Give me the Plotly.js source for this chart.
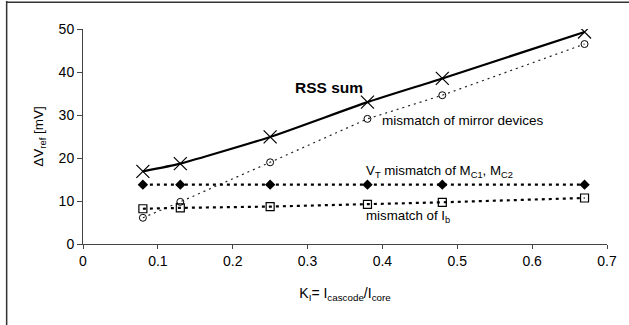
<!DOCTYPE html>
<html><head><meta charset="utf-8">
<script src="https://cdn.plot.ly/plotly-3.0.1.min.js"></script>
<style>html,body{margin:0;padding:0;background:#fff}#c{width:629px;height:325px}</style>
</head><body><div id="c"></div>
<script>
var kI = [0.08, 0.13, 0.25, 0.38, 0.48, 0.67];
var rssSum = [16.9, 18.7, 24.9, 33.0, 38.5, 49.3];
var mirrorMismatch = [6.1, 9.8, 19.0, 29.1, 34.6, 46.5];
var vtMismatch = [13.8, 13.8, 13.8, 13.8, 13.8, 13.8];
var ibMismatch = [8.2, 8.4, 8.7, 9.2, 9.7, 10.7];
var xTicks = [0, 0.1, 0.2, 0.3, 0.4, 0.5, 0.6, 0.7];
var yTicks = [0, 10, 20, 30, 40, 50];

var traces = [
  {x: kI, y: mirrorMismatch, mode: 'lines+markers', line: {color: '#222', width: 1.2, dash: '2px,4px'},
   marker: {symbol: 'circle-open', size: 7, color: '#000', line: {width: 1}}},
  {x: kI, y: vtMismatch, mode: 'lines+markers', line: {color: '#000', width: 2.2, dash: '3px,4px'},
   marker: {symbol: 'diamond', size: 8, color: '#000'}},
  {x: kI, y: ibMismatch, mode: 'lines+markers', line: {color: '#000', width: 2.2, dash: '3px,4px'},
   marker: {symbol: 'square-open', size: 8, color: '#000', line: {width: 1.2}}},
  {x: kI, y: rssSum, mode: 'lines+markers', line: {color: '#000', width: 2.2, shape: 'spline', smoothing: 0.5},
   marker: {symbol: 'x-thin-open', size: 13, color: '#000', line: {width: 1.2, color: '#000'}}}
];

var F = 'Liberation Sans, Arial, sans-serif';
var layout = {
  width: 629, height: 325,
  margin: {l: 83, r: 22, t: 29, b: 81},
  paper_bgcolor: '#fff', plot_bgcolor: '#fff',
  showlegend: false,
  font: {family: F, size: 13, color: '#000'},
  xaxis: {range: [0, 0.7], tickvals: xTicks, ticktext: xTicks.map(String), showgrid: false, zeroline: false,
    showline: true, linecolor: '#444', linewidth: 1, ticks: 'outside', ticklen: 4, tickcolor: '#444',
    tickfont: {size: 14}, fixedrange: true,
    title: {text: 'K<sub>I</sub>= I<sub>cascode</sub>/I<sub>core</sub>', font: {size: 14}, standoff: 20}},
  yaxis: {range: [0, 50], tickvals: yTicks, showgrid: false, zeroline: false,
    showline: true, linecolor: '#444', linewidth: 1, ticks: 'outside', ticklen: 5, tickcolor: '#444',
    tickfont: {size: 14}, fixedrange: true,
    title: {text: '\u0394V<sub>ref</sub> [mV]', font: {size: 13.5}, standoff: 11}},
  shapes: [
    {type: 'line', xref: 'paper', yref: 'paper', x0: -0.1457, x1: -0.1457, y0: -0.4, y1: 1.13, line: {color: '#333', width: 1.5}},
    {type: 'line', xref: 'paper', yref: 'paper', x0: -0.1457, x1: 1.1, y0: 1.124, y1: 1.124, line: {color: '#333', width: 1.5}}
  ],
  annotations: [
    {x: 0.281, y: 36.5, xref: 'x', yref: 'y', text: '<b>RSS sum</b>', showarrow: false, xanchor: 'left', font: {size: 15.5}},
    {x: 0.397, y: 28.8, xref: 'x', yref: 'y', text: 'mismatch of mirror devices', showarrow: false, xanchor: 'left', font: {size: 13.5}},
    {x: 0.376, y: 16.8, xref: 'x', yref: 'y', text: 'V<sub>T</sub> mismatch of M<sub>C1</sub>, M<sub>C2</sub>', showarrow: false, xanchor: 'left', font: {size: 13.3}},
    {x: 0.376, y: 6.4, xref: 'x', yref: 'y', text: 'mismatch of I<sub>b</sub>', showarrow: false, xanchor: 'left', font: {size: 13.3}}
  ]
};
Plotly.newPlot('c', traces, layout, {displayModeBar: false, staticPlot: true});
</script></body></html>
